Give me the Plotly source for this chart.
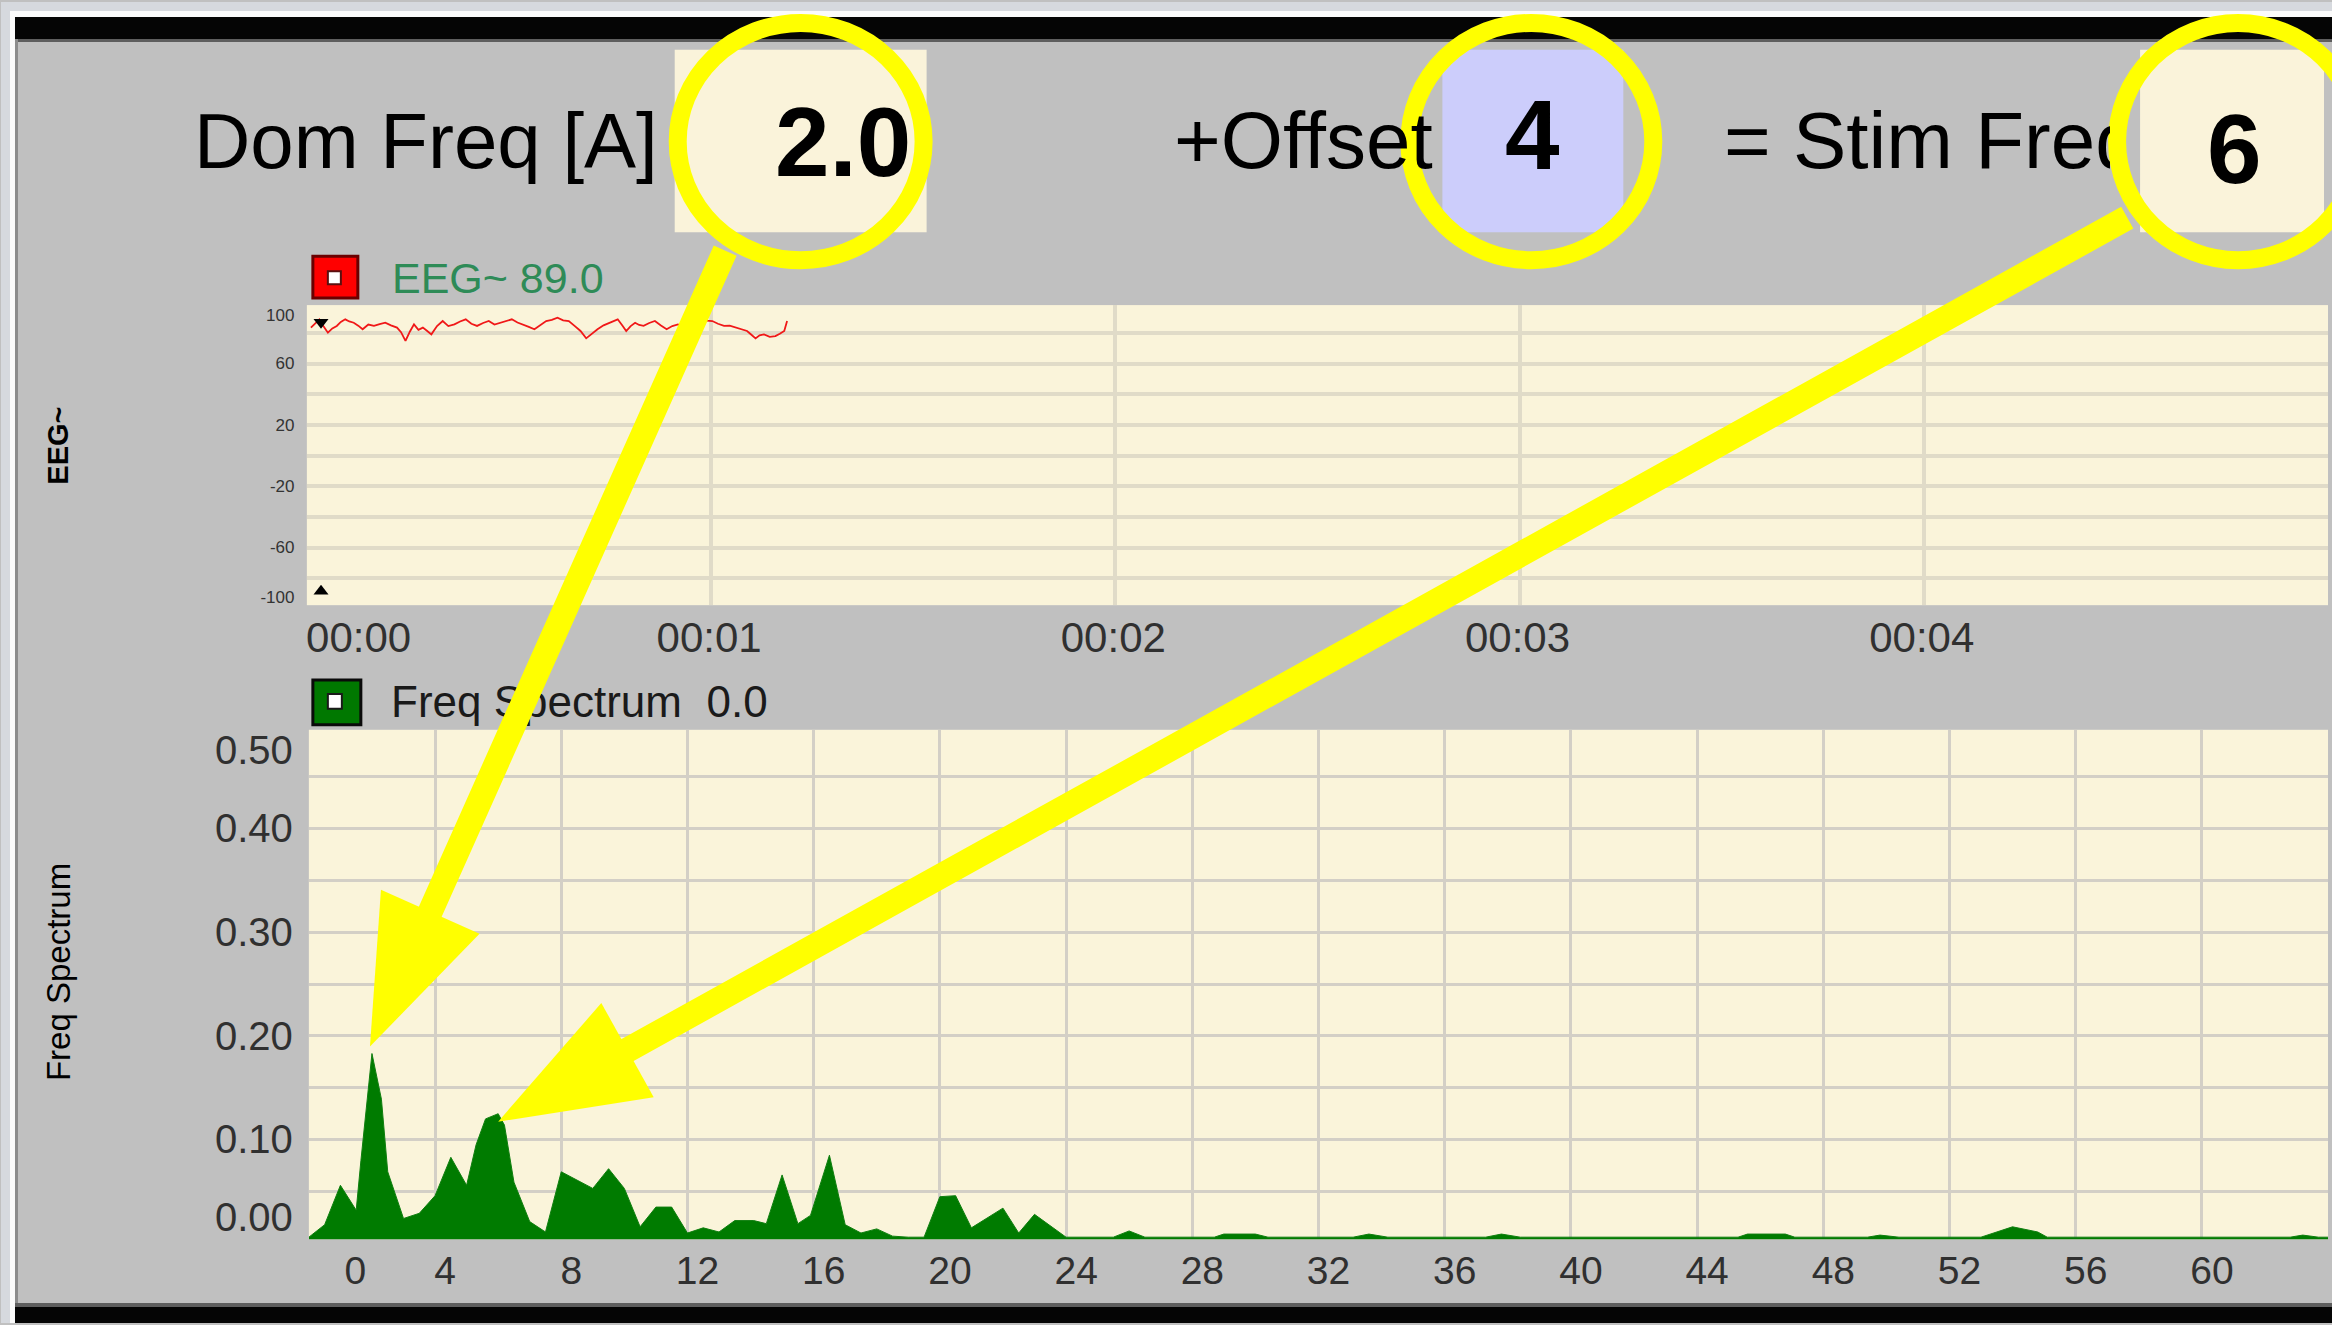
import math
import plotly.graph_objects as go

W, H = 2332, 1325
FONT = "Liberation Sans, Arial, sans-serif"

# ---------------- data ----------------
dom_freq = "2.0"
offset_val = "4"
stim_freq = "6"
eeg_label_value = "89.0"
spec_label_value = "0.0"

spec_freq = [0.0, 0.5, 1.0, 1.5, 1.65, 2.0, 2.3, 2.5, 3.0, 3.5,
             4.0, 4.5, 5.0, 5.3, 5.6, 6.0, 6.2, 6.5, 7.0, 7.5,
             8.0, 8.5, 9.0, 9.5, 10.0, 10.5, 11.0, 11.5, 12.0, 12.5,
             13.0, 13.5, 14.1, 14.5, 15.0, 15.5, 15.9, 16.5, 17.0, 17.5,
             18.0, 18.5, 19.0, 19.5, 20.0, 20.5, 21.0, 22.0, 22.5, 23.0,
             23.6, 24.0, 25.5, 26.0, 26.5, 28.7, 29.0, 30.0, 30.4, 33.1,
             33.6, 34.2, 37.3, 37.8, 38.4, 45.3, 45.6, 46.8, 47.1, 49.4,
             49.8, 50.4, 53.0, 53.5, 54.0, 54.8, 55.1, 62.8, 63.2, 63.7,
             64.0]
spec_amp = [0.006, 0.018, 0.056, 0.032, 0.080, 0.183, 0.139, 0.069, 0.024, 0.029,
            0.046, 0.083, 0.056, 0.095, 0.120, 0.125, 0.114, 0.059, 0.021, 0.011,
            0.069, 0.061, 0.053, 0.072, 0.053, 0.016, 0.035, 0.035, 0.010, 0.015,
            0.011, 0.022, 0.022, 0.019, 0.066, 0.019, 0.027, 0.085, 0.018, 0.010,
            0.014, 0.007, 0.006, 0.006, 0.045, 0.046, 0.015, 0.034, 0.010, 0.028,
            0.015, 0.006, 0.006, 0.012, 0.006, 0.006, 0.009, 0.009, 0.006, 0.006,
            0.009, 0.006, 0.006, 0.009, 0.006, 0.006, 0.009, 0.009, 0.006, 0.006,
            0.008, 0.006, 0.006, 0.011, 0.016, 0.011, 0.006, 0.006, 0.008, 0.006,
            0.006]

eeg_t = [0.010, 0.020, 0.031, 0.042, 0.052, 0.063, 0.074, 0.084, 0.095, 0.105,
         0.116, 0.127, 0.138, 0.152, 0.166, 0.180, 0.194, 0.208, 0.223, 0.233,
         0.244, 0.255, 0.265, 0.276, 0.287, 0.297, 0.308, 0.322, 0.336, 0.350,
         0.365, 0.379, 0.393, 0.407, 0.421, 0.436, 0.450, 0.464, 0.478, 0.492,
         0.507, 0.521, 0.535, 0.549, 0.563, 0.578, 0.592, 0.606, 0.620, 0.634,
         0.648, 0.663, 0.677, 0.691, 0.705, 0.719, 0.734, 0.748, 0.758, 0.769,
         0.780, 0.790, 0.801, 0.812, 0.822, 0.833, 0.847, 0.861, 0.875, 0.890,
         0.904, 0.918, 0.932, 0.947, 0.961, 0.975, 0.989, 1.003, 1.017, 1.032,
         1.046, 1.060, 1.074, 1.089, 1.099, 1.110, 1.120, 1.131, 1.145, 1.159,
         1.170, 1.181, 1.188]
eeg_vals = [83.5, 86.0, 88.9, 84.0, 80.2, 83.0, 84.6, 87.2, 88.9, 87.5,
            86.7, 84.8, 82.4, 85.5, 84.6, 85.8, 86.7, 85.0, 83.5, 80.5,
            74.8, 81.0, 85.6, 82.0, 83.5, 81.5, 79.1, 84.5, 87.8, 84.5,
            85.6, 87.5, 88.9, 86.0, 84.6, 86.5, 87.8, 85.5, 86.7, 88.0,
            88.9, 86.8, 85.6, 84.0, 82.4, 85.5, 87.8, 88.5, 90.0, 88.2,
            87.8, 84.5, 81.3, 76.5, 79.5, 82.4, 85.0, 86.7, 88.0, 88.9,
            85.0, 81.3, 84.5, 86.7, 85.2, 84.6, 86.5, 87.8, 85.0, 82.4,
            84.5, 85.6, 84.2, 83.5, 86.5, 88.9, 88.0, 87.8, 86.0, 84.6,
            84.8, 83.5, 82.5, 81.3, 79.0, 76.5, 78.5, 79.1, 77.5, 78.0,
            79.5, 81.3, 87.8]

eeg_mark_t = [0.035, 0.035]
eeg_mark_v = [87.0, -88.5]
eeg_mark_sym = ["triangle-down", "triangle-up"]

eeg_xtick_text = ["00:00", "00:01", "00:02", "00:03", "00:04"]
eeg_ytick_text = ["100", "60", "20", "-20", "-60", "-100"]
spec_xtick_text = ["0", "4", "8", "12", "16", "20", "24", "28", "32",
                   "36", "40", "44", "48", "52", "56", "60"]
spec_ytick_text = ["0.50", "0.40", "0.30", "0.20", "0.10", "0.00"]

# ---------------- layout helpers ----------------
def X(px):
    return px / W

def Y(py):
    return 1 - py / H

# tick label positions (layout placement)
eeg_xtick_pos = [0.128, 0.995, 1.995, 2.995, 3.995]
eeg_ytick_pos = [91.7, 60.3, 20.2, -19.8, -59.8, -92.4]
spec_xtick_pos = [1.47] + [v + 0.32 for v in range(4, 61, 4)]
spec_ytick_pos = [0.476, 0.4003, 0.3003, 0.2003, 0.1003, 0.025]

# pixel geometry of the two plot areas
EX0, EX1, EY0, EY1 = 306, 2328, 605, 304
SX0, SX1, SY0, SY1 = 308, 2328, 1241, 730
SF = (0, 64)
SV = (0.004, 0.495)


def spec_px(f, v):
    px = SX0 + (f - SF[0]) / (SF[1] - SF[0]) * (SX1 - SX0)
    py = SY0 - (v - SV[0]) / (SV[1] - SV[0]) * (SY0 - SY1)
    return px, py


fig = go.Figure()

fig.add_trace(go.Scatter(x=eeg_t, y=eeg_vals, mode="lines",
                         line=dict(color="#f01818", width=1.8),
                         xaxis="x", yaxis="y", hoverinfo="skip"))
fig.add_trace(go.Scatter(x=eeg_mark_t, y=eeg_mark_v, mode="markers",
                         marker=dict(symbol=eeg_mark_sym, size=13, color="black"),
                         xaxis="x", yaxis="y", hoverinfo="skip"))
fig.add_trace(go.Scatter(x=spec_freq, y=spec_amp, mode="lines", fill="tozeroy",
                         fillcolor="#007b00", line=dict(color="#107f10", width=1),
                         xaxis="x2", yaxis="y2", hoverinfo="skip"))

eeg_grid = "#e0dbc8"
spec_grid = "#d3cfc6"

fig.update_layout(
    width=W, height=H, margin=dict(l=0, r=0, t=0, b=0),
    paper_bgcolor="#c0c0c0", plot_bgcolor="#faf4da",
    showlegend=False, hovermode=False,
    xaxis=dict(domain=[X(EX0), X(EX1)], range=[0, 5], anchor="y",
               tickmode="array", tickvals=eeg_xtick_pos, ticktext=eeg_xtick_text,
               showgrid=False, zeroline=False, showline=False,
               ticks="", ticklabelstandoff=4,
               tickfont=dict(family=FONT, size=42, color="#303030"),
               minor=dict(tickmode="array", tickvals=[1, 2, 3, 4], showgrid=True,
                          gridcolor=eeg_grid, gridwidth=4, ticks=""),
               fixedrange=True),
    yaxis=dict(domain=[Y(EY0), Y(EY1)], range=[-97.6, 98.2], anchor="x",
               tickmode="array", tickvals=eeg_ytick_pos, ticktext=eeg_ytick_text,
               showgrid=False, zeroline=False, showline=False,
               ticks="outside", ticklen=8, tickcolor="rgba(0,0,0,0)",
               tickfont=dict(family=FONT, size=17, color="#333333"),
               minor=dict(tickmode="array", tickvals=[-80, -60, -40, -20, 0, 20, 40, 60, 80],
                          showgrid=True, gridcolor=eeg_grid, gridwidth=4, ticks=""),
               fixedrange=True),
    xaxis2=dict(domain=[X(SX0), X(SX1)], range=list(SF), anchor="y2",
                tickmode="array", tickvals=spec_xtick_pos, ticktext=spec_xtick_text,
                showgrid=False, zeroline=False, showline=False,
                ticks="", ticklabelstandoff=5,
                tickfont=dict(family=FONT, size=39, color="#303030"),
                minor=dict(tickmode="array", tickvals=list(range(4, 61, 4)), showgrid=True,
                           gridcolor=spec_grid, gridwidth=3, ticks=""),
                fixedrange=True),
    yaxis2=dict(domain=[Y(SY0), Y(SY1)], range=list(SV), anchor="x2",
                tickmode="array", tickvals=spec_ytick_pos, ticktext=spec_ytick_text,
                showgrid=False, zeroline=False, showline=False,
                ticks="outside", ticklen=7, tickcolor="rgba(0,0,0,0)",
                tickfont=dict(family=FONT, size=40, color="#303030"),
                minor=dict(tickmode="array",
                           tickvals=[0.05, 0.10, 0.15, 0.20, 0.25, 0.30, 0.35, 0.40, 0.45],
                           showgrid=True, gridcolor=spec_grid, gridwidth=3, ticks=""),
                fixedrange=True),
)

shapes = []


def rect(x0, y0, x1, y1, color, layer="below", line=None):
    d = dict(type="rect", xref="paper", yref="paper",
             x0=X(x0), x1=X(x1), y0=Y(y1), y1=Y(y0),
             fillcolor=color, layer=layer)
    d["line"] = line if line else dict(width=0)
    shapes.append(d)


# window frame
rect(0, 0, W, 9, "#d6d9de")
rect(0, 0, 9, H, "#d6d9de")
rect(9, 9, W, 15, "#fbfbfb")
rect(9, 9, 14, H, "#fbfbfb")
rect(14, 15, W, 37, "#050505")
rect(14, 37, W, 40, "#5e5e5e")
rect(14, 37, 17, 1306, "#8c8c8c")
rect(14, 1305, W, 1309, "#5e5e5e")
rect(14, 1309, W, H, "#050505")

# value boxes
rect(674, 48, 926, 231, "#faf3da", layer="above")
rect(1442, 48, 1623, 231, "#cccdfb", layer="above")
rect(2140, 48, 2324, 231, "#faf3da", layer="above")

# legend markers
rect(312, 255, 357, 297, "#ff0000", layer="above", line=dict(color="#6a0000", width=3))
rect(327, 270, 340, 283, "#ffffff", layer="above", line=dict(color="#5a1010", width=2))
rect(312, 680, 360, 725, "#007800", layer="above", line=dict(color="#0a0a0a", width=3))
rect(327, 694, 341, 709, "#ffffff", layer="above", line=dict(color="#1a1a1a", width=2))

# yellow rings
RING_W = 18
for (cx, cy, rx, ry) in [(800, 140, 123, 119), (1531, 140, 122, 119), (2238, 140, 121, 119)]:
    shapes.append(dict(type="circle", xref="paper", yref="paper", layer="above",
                       x0=X(cx - rx), x1=X(cx + rx), y0=Y(cy + ry), y1=Y(cy - ry),
                       line=dict(color="#ffff00", width=RING_W), fillcolor="rgba(0,0,0,0)"))

annotations = []


def label(text, x, y, size, color="#000000", xanchor="left", bold=False, angle=0, **kw):
    t = f"<b>{text}</b>" if bold else text
    annotations.append(dict(text=t, x=X(x), y=Y(y), xref="paper", yref="paper",
                            xanchor=xanchor, yanchor="middle", showarrow=False,
                            textangle=angle,
                            font=dict(family=FONT, size=size, color=color), **kw))


label("Dom Freq [A]", 191, 139, 78)
label("+Offset", 1172, 139, 80)
label("= Stim Freq", 1722, 139, 80, width=386, align="left")
label(dom_freq, 842, 140, 98, xanchor="center", bold=True)
label(offset_val, 1532, 133, 98, xanchor="center", bold=True)
label(stim_freq, 2234, 147, 98, xanchor="center", bold=True)
label(f"EEG~ {eeg_label_value}", 389, 277, 43, color="#2e8b57")
label(f"Freq Spectrum  {spec_label_value}", 388, 702, 44, color="#1a1a1a")
label("EEG~", 57, 445, 29, xanchor="center", angle=-90, bold=True)
label("Freq Spectrum", 57, 973, 33, xanchor="center", angle=-90)

# arrows: from ring to spectrum peaks
peak1 = spec_px(2.0, 0.183)
peak2 = spec_px(6.0, 0.125)
arrows = [((725, 250), (peak1[0] - 2, peak1[1] - 7)),
          ((2128, 218), (peak2[0], peak2[1] + 8))]
HEAD_LEN, HEAD_HALF, SHAFT_W = 148, 54, 25
for start, tip in arrows:
    dx, dy = tip[0] - start[0], tip[1] - start[1]
    L = math.hypot(dx, dy)
    ux, uy = dx / L, dy / L
    bx, by = tip[0] - ux * HEAD_LEN, tip[1] - uy * HEAD_LEN
    nx, ny = -uy, ux
    c1 = (bx + nx * HEAD_HALF, by + ny * HEAD_HALF)
    c2 = (bx - nx * HEAD_HALF, by - ny * HEAD_HALF)
    path = (f"M {X(tip[0])},{Y(tip[1])} L {X(c1[0])},{Y(c1[1])} "
            f"L {X(c2[0])},{Y(c2[1])} Z")
    shapes.append(dict(type="path", path=path, xref="paper", yref="paper",
                       layer="above", fillcolor="#ffff00", line=dict(width=0)))
    ex, ey = bx + ux * 20, by + uy * 20
    annotations.append(dict(text="", x=X(ex), y=Y(ey), xref="paper", yref="paper",
                            showarrow=True, arrowhead=0, arrowwidth=SHAFT_W,
                            arrowcolor="#ffff00", ax=start[0] - ex, ay=start[1] - ey,
                            axref="pixel", ayref="pixel"))

fig.update_layout(shapes=shapes, annotations=annotations)

fig.write_html("out.html", config={"displayModeBar": False},
               post_script="document.body.style.margin='0px';"
                           "document.body.style.overflow='hidden';")
